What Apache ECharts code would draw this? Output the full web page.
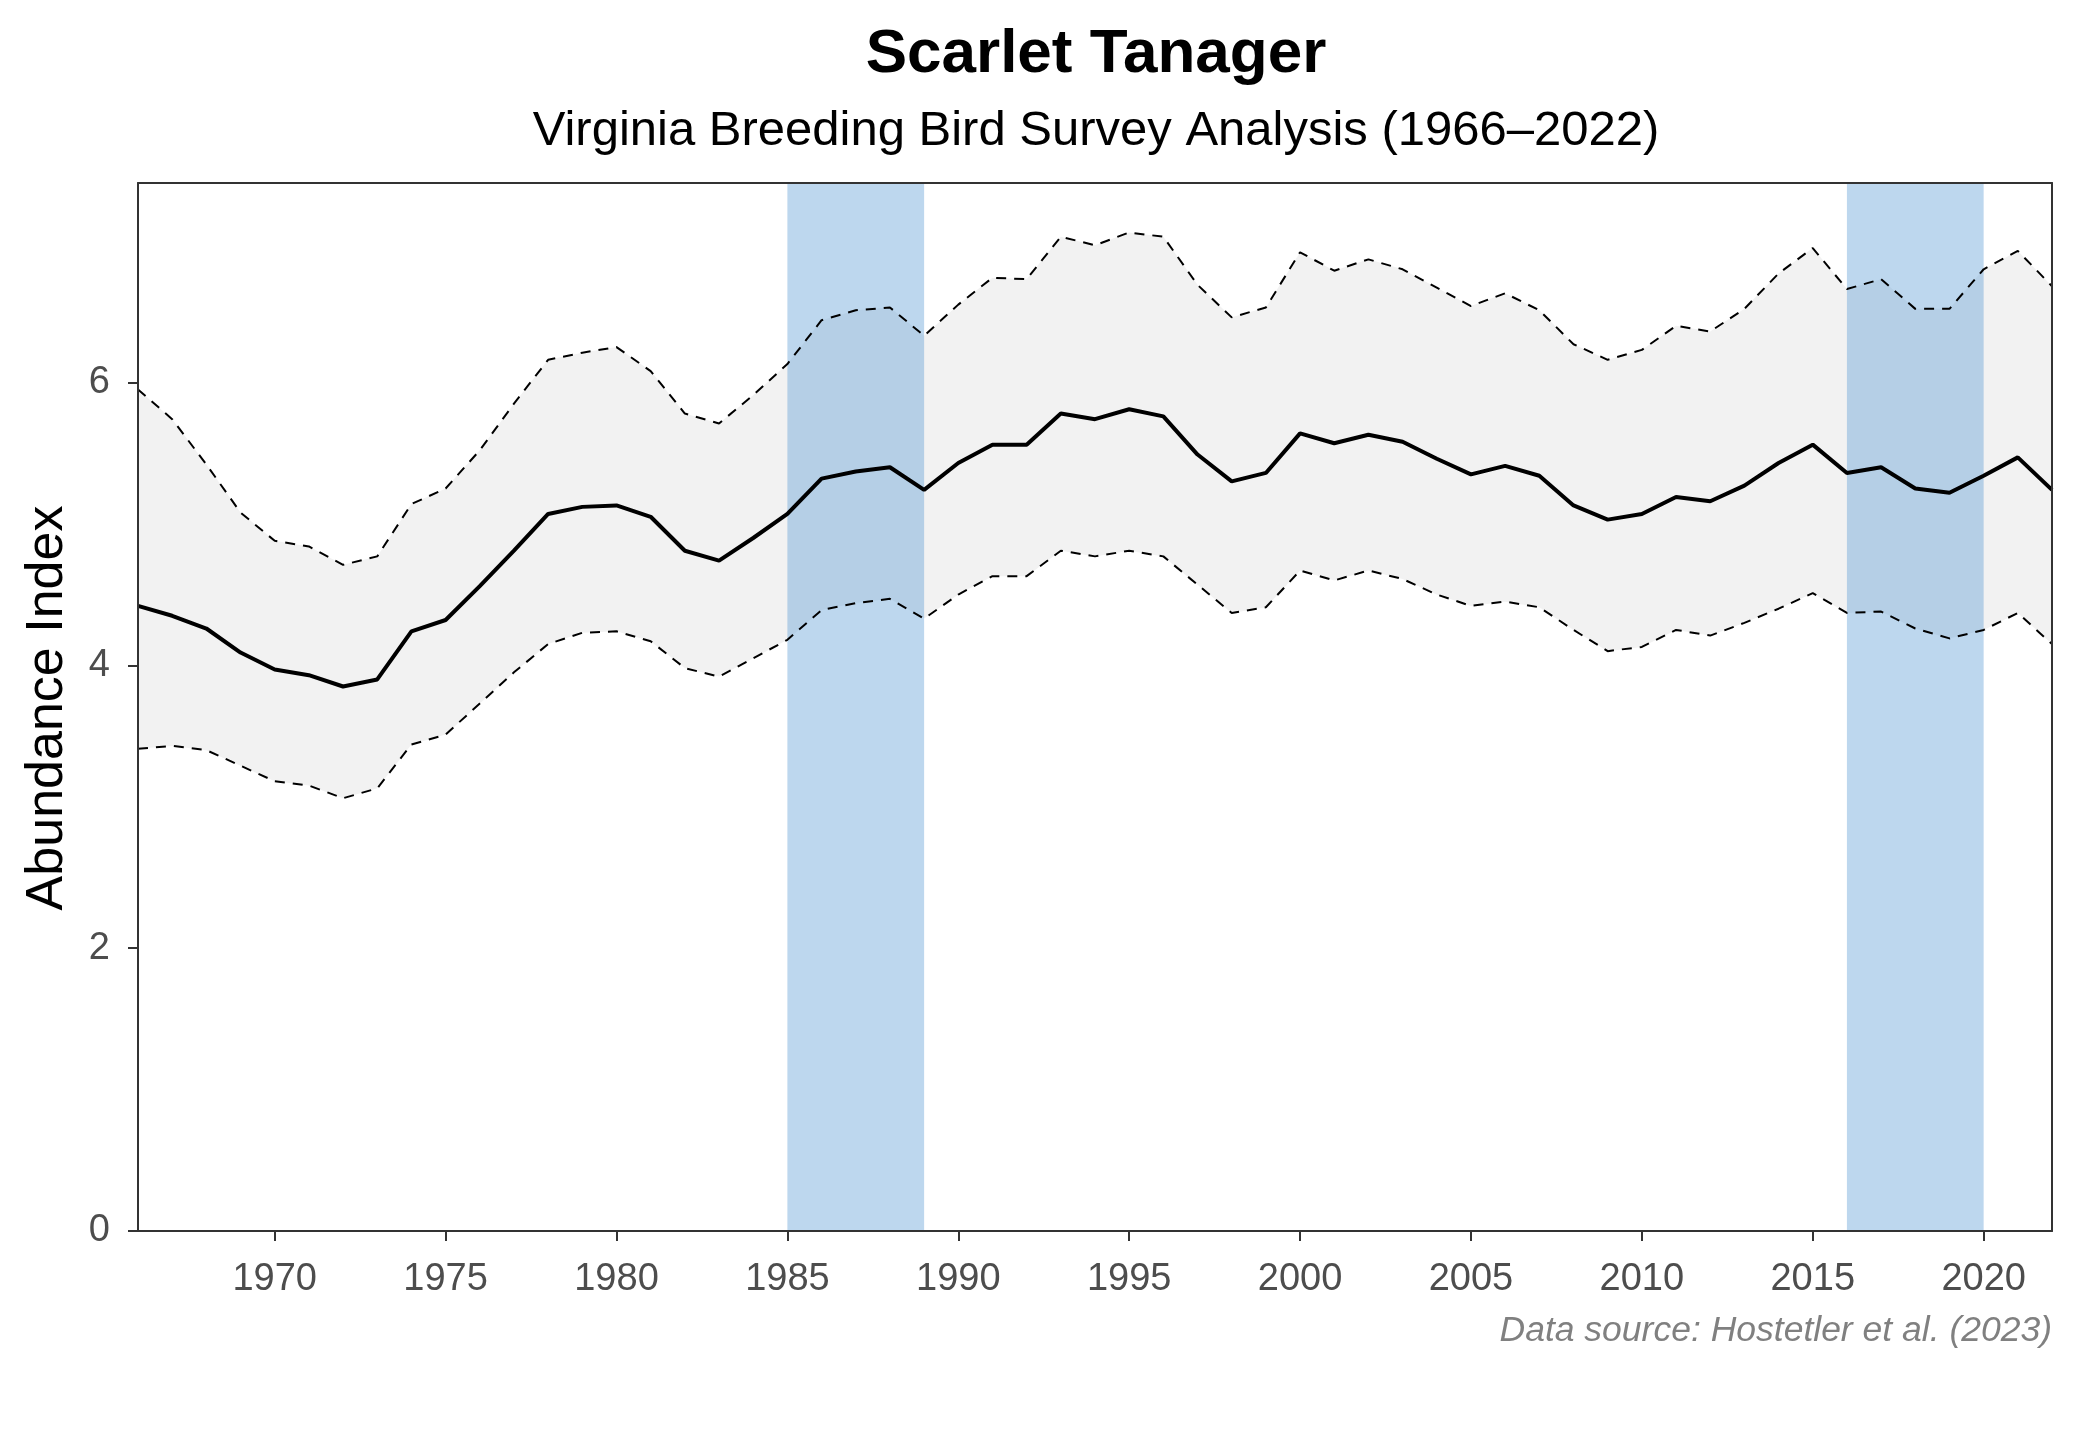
<!DOCTYPE html>
<html><head><meta charset="utf-8">
<script src="https://cdn.jsdelivr.net/npm/echarts@6/dist/echarts.min.js"></script>
<style>html,body{margin:0;padding:0;background:#fff}#c{width:2080px;height:1440px}</style>
</head><body><div id="c"></div>
<script>
const years = [1966,1967,1968,1969,1970,1971,1972,1973,1974,1975,1976,1977,1978,1979,1980,1981,1982,1983,1984,1985,1986,1987,1988,1989,1990,1991,1992,1993,1994,1995,1996,1997,1998,1999,2000,2001,2002,2003,2004,2005,2006,2007,2008,2009,2010,2011,2012,2013,2014,2015,2016,2017,2018,2019,2020,2021,2022];
const meanIndex = [4.42,4.35,4.26,4.09,3.97,3.93,3.85,3.90,4.24,4.32,4.56,4.81,5.07,5.12,5.13,5.05,4.81,4.74,4.90,5.07,5.32,5.37,5.40,5.24,5.43,5.56,5.56,5.78,5.74,5.81,5.76,5.49,5.30,5.36,5.64,5.57,5.63,5.58,5.46,5.35,5.41,5.34,5.13,5.03,5.07,5.19,5.16,5.27,5.43,5.56,5.36,5.40,5.25,5.22,5.34,5.47,5.24];
const upperCI = [5.95,5.74,5.42,5.08,4.88,4.84,4.71,4.77,5.14,5.25,5.52,5.85,6.16,6.21,6.25,6.08,5.78,5.71,5.91,6.13,6.44,6.51,6.53,6.33,6.55,6.74,6.73,7.03,6.97,7.06,7.03,6.69,6.46,6.53,6.92,6.79,6.87,6.80,6.67,6.54,6.63,6.51,6.27,6.16,6.23,6.40,6.36,6.52,6.77,6.95,6.66,6.73,6.52,6.52,6.80,6.93,6.68];
const lowerCI = [3.41,3.43,3.40,3.29,3.18,3.15,3.06,3.13,3.44,3.51,3.73,3.95,4.15,4.23,4.24,4.17,3.98,3.92,4.05,4.18,4.39,4.44,4.47,4.33,4.50,4.63,4.63,4.81,4.77,4.81,4.77,4.57,4.37,4.41,4.67,4.60,4.67,4.61,4.50,4.42,4.45,4.41,4.25,4.10,4.13,4.25,4.21,4.30,4.40,4.51,4.37,4.38,4.26,4.19,4.25,4.37,4.15];
const highlightPeriods = [[1985,1989],[2016,2020]];
const xTickLabels = [1970,1975,1980,1985,1990,1995,2000,2005,2010,2015,2020];
const yTickLabels = [0,2,4,6];
const xRange = [1966, 2022];
const yRange = [0, 7.41];
const titleText = 'Scarlet Tanager';
const subtitleText = 'Virginia Breeding Bird Survey Analysis (1966–2022)';
const yAxisTitle = 'Abundance Index';
const captionText = 'Data source: Hostetler et al. (2023)';

const FONT = '"Liberation Sans", Arial, Helvetica, sans-serif';
const G = {left: 138, right: 28, top: 183, bottom: 209};

const chart = echarts.init(document.getElementById('c'), null, {renderer: 'canvas'});

const pair = (arr) => years.map((y, i) => [y, arr[i]]);
const axisLineStyle = {color: '#333333', width: 2};

const option = {
  backgroundColor: '#ffffff',
  animation: false,
  grid: {left: G.left, right: G.right, top: G.top, bottom: G.bottom, show: false, containLabel: false},
  xAxis: [{
    type: 'value', min: xRange[0], max: xRange[1], position: 'bottom', z: 10,
    axisLine: {show: true, onZero: false, lineStyle: axisLineStyle},
    axisTick: {show: true, length: 10, lineStyle: {color: '#333333', width: 2}, customValues: xTickLabels},
    axisLabel: {show: true, margin: 30, fontSize: 38, color: '#4d4d4d', fontFamily: FONT, customValues: xTickLabels, formatter: v => String(v)},
    splitLine: {show: false}
  }, {
    type: 'value', min: xRange[0], max: xRange[1], position: 'top', z: 10,
    axisLine: {show: true, onZero: false, lineStyle: axisLineStyle},
    axisTick: {show: false}, axisLabel: {show: false}, splitLine: {show: false}
  }],
  yAxis: [{
    type: 'value', min: yRange[0], max: yRange[1], position: 'left', z: 10,
    axisLine: {show: true, onZero: false, lineStyle: axisLineStyle},
    axisTick: {show: true, length: 10, lineStyle: {color: '#333333', width: 2}, customValues: yTickLabels},
    axisLabel: {show: true, margin: 28, fontSize: 38, color: '#4d4d4d', fontFamily: FONT, customValues: yTickLabels, formatter: v => String(v)},
    splitLine: {show: false}
  }, {
    type: 'value', min: yRange[0], max: yRange[1], position: 'right', z: 10,
    axisLine: {show: true, onZero: false, lineStyle: axisLineStyle},
    axisTick: {show: false}, axisLabel: {show: false}, splitLine: {show: false}
  }],
  series: [
    {
      name: 'ciBand', type: 'custom', z: 1, silent: true, clip: true,
      data: [[years[0], lowerCI[0]]],
      renderItem: function (params, api) {
        const pts = [];
        for (let i = 0; i < years.length; i++) pts.push(api.coord([years[i], upperCI[i]]));
        for (let i = years.length - 1; i >= 0; i--) pts.push(api.coord([years[i], lowerCI[i]]));
        return {type: 'polygon', shape: {points: pts}, style: {fill: '#f2f2f2', stroke: null}};
      }
    },
    {
      name: 'periods', type: 'line', data: [], z: 2, silent: true,
      markArea: {
        silent: true, z: 2,
        itemStyle: {color: 'rgba(91,155,213,0.4)'},
        data: highlightPeriods.map(p => [{xAxis: p[0]}, {xAxis: p[1]}])
      }
    },
    {
      name: 'upper', type: 'line', data: pair(upperCI), symbol: 'none', z: 4, silent: true,
      lineStyle: {color: '#000000', width: 2, type: [10, 8]}
    },
    {
      name: 'lower', type: 'line', data: pair(lowerCI), symbol: 'none', z: 4, silent: true,
      lineStyle: {color: '#000000', width: 2, type: [10, 8]}
    },
    {
      name: 'mean', type: 'line', data: pair(meanIndex), symbol: 'none', z: 5, silent: true,
      lineStyle: {color: '#000000', width: 4}
    }
  ],
  graphic: [
    {type: 'text', x: 1096, y: 55, z: 20, style: {text: titleText, font: 'bold 62px ' + FONT, fill: '#000', align: 'center', verticalAlign: 'middle'}},
    {type: 'text', x: 1096, y: 131, z: 20, style: {text: subtitleText, font: '49px ' + FONT, fill: '#000', align: 'center', verticalAlign: 'middle'}},
    {type: 'text', x: 48, y: 708, rotation: Math.PI / 2, z: 20, style: {text: yAxisTitle, font: '52px ' + FONT, fill: '#000', align: 'center', verticalAlign: 'middle'}},
    {type: 'text', x: 2052, y: 1331, z: 20, style: {text: captionText, font: 'italic 35.5px ' + FONT, fill: '#808080', align: 'right', verticalAlign: 'middle'}}
  ]
};
chart.setOption(option);
</script>
</body></html>
